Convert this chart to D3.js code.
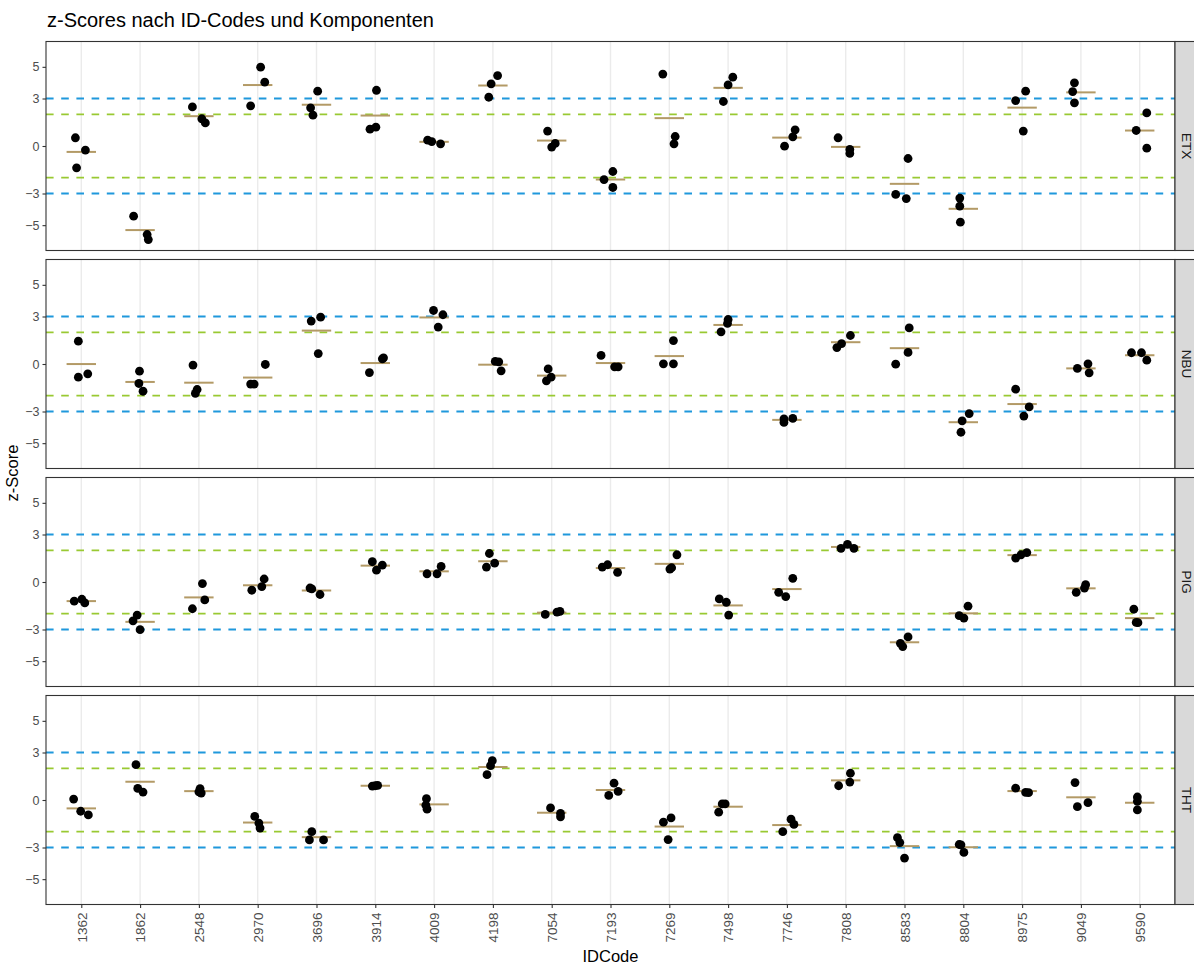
<!DOCTYPE html>
<html>
<head>
<meta charset="utf-8">
<script src="https://cdn.jsdelivr.net/npm/d3@7"></script>
<style>
  html, body { margin: 0; padding: 0; background: #fff; }
  svg { display: block; font-family: "Liberation Sans", Arial, sans-serif; }
</style>
</head>
<body>
<svg id="chart" width="1194" height="965"></svg>
<script>
// ID codes on the x axis (one column per laboratory)
const idCodes = ["1362","1862","2548","2970","3696","3914","4009","4198","7054",
                 "7193","7269","7498","7746","7808","8583","8804","8975","9049","9590"];

// facet rows
const components = ["ETX", "NBU", "PIG", "THT"];

// y-axis ticks and the reference limits (|z| = 2 and |z| = 3)
const yTicks = [-5, -3, 0, 3, 5];
const warnLimits = [-2, 2];
const actionLimits = [-3, 3];

// z-scores: three replicate results per ID code, in idCodes order
const etxScores = [
  [0.52, -0.26, -1.38], [-4.43, -5.59, -5.91], [2.47, 1.72, 1.46], [4.98, 4.03, 2.54],
  [3.46, 2.41, 1.95], [3.52, 1.06, 1.19], [0.37, 0.28, 0.14], [4.45, 3.93, 3.08],
  [0.94, -0.07, 0.16], [-2.12, -1.61, -2.62], [4.54, 0.60, 0.14], [4.35, 3.86, 2.81],
  [1.02, 0.58, -0.01], [0.52, -0.22, -0.47], [-0.79, -3.06, -3.32], [-3.29, -3.80, -4.81],
  [2.87, 3.46, 0.94], [3.99, 3.44, 2.73], [2.09, 0.98, -0.14]
];
const nbuScores = [
  [1.44, -0.83, -0.62], [-0.45, -1.23, -1.72], [-0.07, -1.61, -1.86], [-0.03, -1.27, -1.27],
  [2.96, 2.71, 0.66], [-0.54, 0.33, 0.39], [3.38, 3.11, 2.33], [0.16, 0.14, -0.43],
  [-0.31, -1.06, -0.83], [0.54, -0.18, -0.18], [1.48, 0.01, 0.01], [2.81, 2.56, 2.03],
  [-3.69, -3.46, -3.44], [1.04, 1.29, 1.80], [2.28, 0.73, -0.01], [-3.13, -3.59, -4.31],
  [-1.59, -2.71, -3.29], [-0.28, 0.01, -0.56], [0.71, 0.71, 0.24]
];
const pigScores = [
  [-1.21, -1.09, -1.32], [-2.45, -2.09, -3.01], [-0.10, -1.13, -1.69], [0.19, -0.29, -0.52],
  [-0.44, -0.38, -0.79], [1.28, 0.75, 1.07], [0.52, 0.52, 0.98], [1.80, 1.19, 0.94],
  [-2.05, -1.90, -1.86], [0.94, 1.09, 0.61], [1.72, 0.90, 0.82], [-1.07, -1.28, -2.09],
  [0.23, -0.65, -0.92], [2.13, 2.38, 2.13], [-3.47, -3.87, -4.08], [-1.53, -2.13, -2.28],
  [1.51, 1.72, 1.86], [-0.65, -0.38, -0.17], [-1.72, -2.55, -2.57]
];
const thtScores = [
  [0.06, -0.71, -0.94], [2.23, 0.73, 0.50], [0.72, 0.52, 0.44], [-1.04, -1.46, -1.77],
  [-2.00, -2.52, -2.52], [0.88, 0.92, 0.90], [0.08, -0.33, -0.58], [2.48, 2.17, 1.60],
  [-0.50, -0.85, -1.06], [1.06, 0.54, 0.29], [-1.13, -1.40, -2.50], [-0.25, -0.25, -0.77],
  [-1.21, -1.54, -2.00], [1.69, 1.13, 0.90], [-2.38, -2.69, -3.67], [-2.81, -3.31, -2.83],
  [0.75, 0.48, 0.46], [1.10, -0.42, -0.17], [0.19, -0.08, -0.63]
];

// horizontal jitter of each replicate, in fractions of one ID column
const etxJitter = [
  [-0.10, 0.07, -0.08], [-0.11, 0.12, 0.14], [-0.11, 0.05, 0.11], [0.05, 0.12, -0.12],
  [0.02, -0.10, -0.06], [0.02, -0.09, 0.01], [-0.11, -0.04, 0.11], [0.08, -0.03, -0.07],
  [-0.07, 0.00, 0.06], [-0.11, 0.04, 0.04], [-0.11, 0.10, 0.08], [0.08, 0.00, -0.08],
  [0.14, 0.10, -0.04], [-0.13, 0.07, 0.07], [0.06, -0.15, 0.03], [-0.06, -0.06, -0.05],
  [-0.11, 0.06, 0.02], [-0.11, -0.14, -0.11], [0.12, -0.06, 0.12]
];
const nbuJitter = [
  [-0.05, -0.05, 0.11], [-0.01, -0.02, 0.05], [-0.10, -0.03, -0.06], [0.13, -0.12, -0.06],
  [0.07, -0.09, 0.03], [-0.10, 0.12, 0.14], [-0.01, 0.15, 0.07], [0.04, 0.10, 0.14],
  [-0.06, -0.09, -0.01], [-0.16, 0.07, 0.13], [0.07, -0.10, 0.07], [0.00, -0.01, -0.12],
  [-0.05, -0.05, 0.10], [-0.15, -0.07, 0.08], [0.08, 0.06, -0.15], [0.10, -0.02, -0.04],
  [-0.11, 0.12, 0.03], [-0.06, 0.12, 0.14], [-0.14, 0.03, 0.12]
];
const pigJitter = [
  [-0.12, 0.01, 0.06], [-0.12, -0.05, 0.00], [0.06, 0.10, -0.11], [0.11, 0.07, -0.10],
  [-0.08, -0.11, 0.06], [-0.05, 0.02, 0.12], [-0.12, 0.05, 0.12], [-0.06, 0.03, -0.11],
  [-0.11, 0.09, 0.14], [-0.14, -0.05, 0.12], [0.13, 0.04, 0.01], [-0.15, -0.03, 0.01],
  [0.10, -0.14, -0.02], [-0.08, 0.03, 0.14], [0.06, -0.07, -0.03], [0.08, -0.07, 0.01],
  [-0.11, -0.02, 0.08], [-0.08, 0.06, 0.08], [-0.10, -0.06, -0.03]
];
const thtJitter = [
  [-0.13, -0.01, 0.12], [-0.07, -0.04, 0.05], [0.02, 0.00, 0.04], [-0.05, 0.02, 0.04],
  [-0.08, -0.12, 0.12], [-0.05, 0.04, 0.00], [-0.13, -0.14, -0.12], [-0.01, -0.04, -0.10],
  [-0.02, 0.15, 0.15], [0.06, 0.13, -0.03], [0.03, -0.10, -0.02], [-0.10, -0.05, -0.16],
  [0.07, 0.12, -0.07], [0.08, 0.07, -0.12], [-0.12, -0.08, 0.00], [-0.07, 0.01, -0.04],
  [-0.11, 0.06, 0.11], [-0.10, -0.06, 0.12], [-0.04, -0.04, -0.04]
];

const scoresByComponent = { ETX: etxScores, NBU: nbuScores, PIG: pigScores, THT: thtScores };
const jitterByComponent = { ETX: etxJitter, NBU: nbuJitter, PIG: pigJitter, THT: thtJitter };

// ---- layout ----
const panelLeft = 46, panelRight = 1175;
const panelTop0 = 41.5, panelH = 209, panelStep = 218;
const stripW = 20;

const colors = {
  action: "#1f98dc",
  warn: "#99c932",
  mean: "#b39a66",
  point: "#000000",
  grid: "#ebebeb",
  border: "#333333",
  strip: "#d9d9d9",
  tickText: "#4d4d4d"
};

const svg = d3.select("#chart");

const x = d3.scalePoint().domain(idCodes).range([panelLeft, panelRight]).padding(0.6);
const step = x.step();

// title
svg.append("text")
  .attr("x", 47).attr("y", 27)
  .attr("font-size", 20).attr("fill", "#000")
  .text("z-Scores nach ID-Codes und Komponenten");

components.forEach((comp, ci) => {
  const top = panelTop0 + ci * panelStep;
  const y = d3.scaleLinear().domain([-6.6, 6.6]).range([top + panelH, top]);
  const g = svg.append("g").attr("class", "panel-" + comp);

  // background
  g.append("rect")
    .attr("x", panelLeft).attr("y", top)
    .attr("width", panelRight - panelLeft).attr("height", panelH)
    .attr("fill", "#fff");

  // vertical major grid
  g.selectAll("line.grid").data(idCodes).join("line")
    .attr("class", "grid")
    .attr("x1", d => x(d)).attr("x2", d => x(d))
    .attr("y1", top).attr("y2", top + panelH)
    .attr("stroke", colors.grid).attr("stroke-width", 1.4);

  // reference limits
  const refs = [
    ...actionLimits.map(v => ({ v, c: colors.action })),
    ...warnLimits.map(v => ({ v, c: colors.warn }))
  ];
  g.selectAll("line.ref").data(refs).join("line")
    .attr("class", "ref")
    .attr("x1", panelLeft).attr("x2", panelRight)
    .attr("y1", d => y(d.v)).attr("y2", d => y(d.v))
    .attr("stroke", d => d.c).attr("stroke-width", 1.9)
    .attr("stroke-dasharray", "7.6,7.6");

  const scores = scoresByComponent[comp];
  const jit = jitterByComponent[comp];

  // mean per ID code (crossbar)
  const means = idCodes.map((id, i) => ({ id, m: d3.mean(scores[i]) }));
  g.selectAll("line.mean").data(means).join("line")
    .attr("class", "mean")
    .attr("x1", d => x(d.id) - step * 0.25).attr("x2", d => x(d.id) + step * 0.25)
    .attr("y1", d => y(d.m)).attr("y2", d => y(d.m))
    .attr("stroke", colors.mean).attr("stroke-width", 2);

  // individual results
  const pts = [];
  idCodes.forEach((id, i) => {
    scores[i].forEach((v, k) => pts.push({ id, v, j: jit[i][k] }));
  });
  g.selectAll("circle").data(pts).join("circle")
    .attr("cx", d => x(d.id) + d.j * step)
    .attr("cy", d => y(d.v))
    .attr("r", 4.4)
    .attr("fill", colors.point);

  // panel border
  g.append("rect")
    .attr("x", panelLeft).attr("y", top)
    .attr("width", panelRight - panelLeft).attr("height", panelH)
    .attr("fill", "none").attr("stroke", colors.border).attr("stroke-width", 1.1);

  // y axis
  const yAxis = g.append("g")
    .attr("transform", `translate(${panelLeft},0)`)
    .call(d3.axisLeft(y).tickValues(yTicks).tickSize(3.5).tickPadding(3).tickFormat(d3.format("d")));
  yAxis.select(".domain").remove();
  yAxis.selectAll(".tick line").attr("stroke", colors.border).attr("stroke-width", 1.1);
  yAxis.selectAll(".tick text")
    .attr("fill", colors.tickText).attr("font-size", 12.5)
    .attr("font-family", "Liberation Sans, Arial, sans-serif");

  // facet strip
  g.append("rect")
    .attr("x", panelRight).attr("y", top)
    .attr("width", stripW).attr("height", panelH)
    .attr("fill", colors.strip).attr("stroke", colors.border).attr("stroke-width", 1.1);
  g.append("text")
    .attr("transform", `translate(${panelRight + 7},${top + panelH / 2}) rotate(90)`)
    .attr("text-anchor", "middle")
    .attr("font-size", 13.5).attr("fill", "#1a1a1a")
    .text(comp);

  // x axis on the bottom panel only
  if (ci === components.length - 1) {
    const xAxis = g.append("g")
      .attr("transform", `translate(0,${top + panelH})`)
      .call(d3.axisBottom(x).tickSize(3.5).tickPadding(3));
    xAxis.select(".domain").remove();
    xAxis.selectAll(".tick line").attr("stroke", colors.border).attr("stroke-width", 1.1);
    xAxis.selectAll(".tick text")
      .attr("fill", colors.tickText).attr("font-size", 13.5)
      .attr("font-family", "Liberation Sans, Arial, sans-serif")
      .attr("text-anchor", "end")
      .attr("dy", "0.35em")
      .attr("transform", "translate(0,8) rotate(-90)")
      .attr("x", 0).attr("y", 0);
  }
});

// axis titles
svg.append("text")
  .attr("x", (panelLeft + panelRight) / 2).attr("y", 962)
  .attr("text-anchor", "middle").attr("font-size", 16.5).attr("fill", "#000")
  .text("IDCode");

svg.append("text")
  .attr("transform", `translate(18,${(panelTop0 + 3 * panelStep + panelH + panelTop0) / 2}) rotate(-90)`)
  .attr("text-anchor", "middle").attr("font-size", 16.5).attr("fill", "#000")
  .text("z-Score");
</script>
</body>
</html>
